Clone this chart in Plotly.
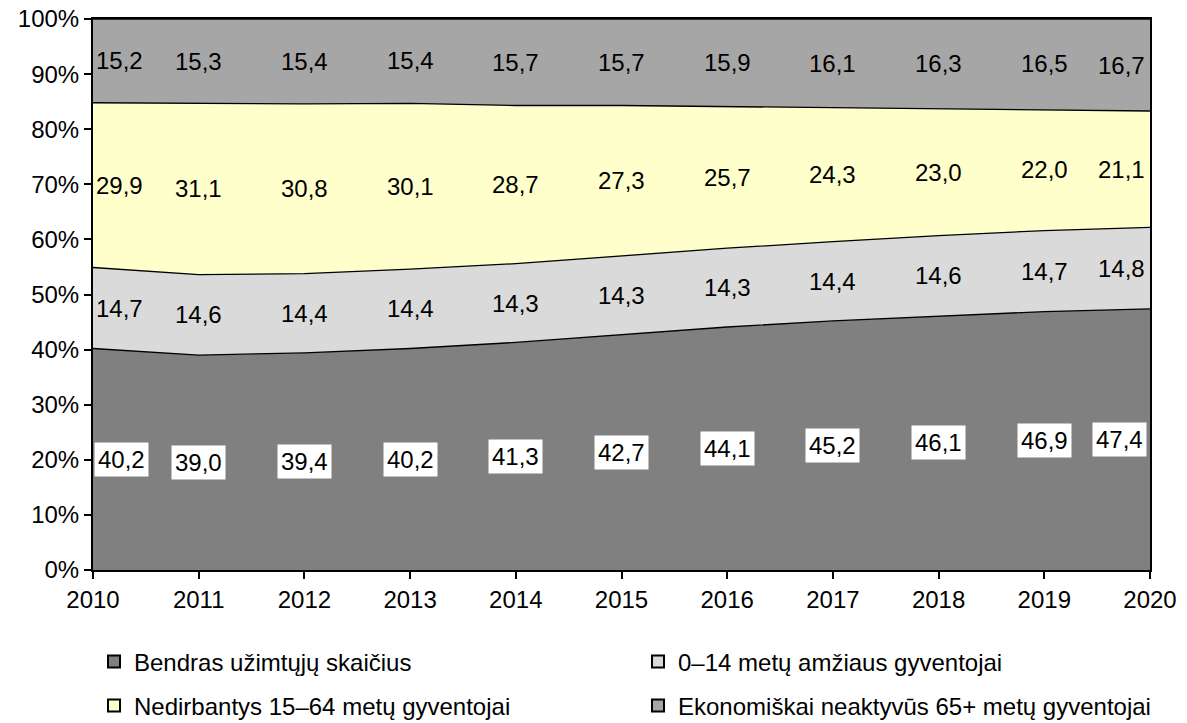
import plotly.graph_objects as go

years = [2010, 2011, 2012, 2013, 2014, 2015, 2016, 2017, 2018, 2019, 2020]
employed = [40.2, 39.0, 39.4, 40.2, 41.3, 42.7, 44.1, 45.2, 46.1, 46.9, 47.4]
children = [14.7, 14.6, 14.4, 14.4, 14.3, 14.3, 14.3, 14.4, 14.6, 14.7, 14.8]
notworking = [29.9, 31.1, 30.8, 30.1, 28.7, 27.3, 25.7, 24.3, 23.0, 22.0, 21.1]
elderly = [15.2, 15.3, 15.4, 15.4, 15.7, 15.7, 15.9, 16.1, 16.3, 16.5, 16.7]

names = ["Bendras užimtųjų skaičius", "0–14 metų amžiaus gyventojai",
         "Nedirbantys 15–64 metų gyventojai", "Ekonomiškai neaktyvūs 65+ metų gyventojai"]
series = [employed, children, notworking, elderly]
colors = ["#808080", "#DADADA", "#FFFFCC", "#A6A6A6"]

FONT = "Liberation Sans, Arial, sans-serif"
fig = go.Figure()

for name, vals, col in zip(names, series, colors):
    fig.add_trace(go.Scatter(
        x=years, y=vals, name=name, stackgroup="one", mode="lines",
        line=dict(color="black", width=1.3), fillcolor=col,
        showlegend=False, hoverinfo="skip"))

legend_ids = ["legend", "legend2", "legend3", "legend4"]
for name, col, lg in zip(names, colors, legend_ids):
    fig.add_trace(go.Scatter(
        x=[None], y=[None], name=name, mode="markers",
        marker=dict(symbol="square", size=13, color=col, line=dict(color="black", width=1)),
        legend=lg, showlegend=True))

annotations = []
base = [0.0] * len(years)
for si, vals in enumerate(series):
    for i, (yr, v) in enumerate(zip(years, vals)):
        mid = base[i] + v / 2
        if i == 0:
            xa, xs = "left", 1
        elif i == len(years) - 1:
            xa, xs = "right", -3
        else:
            xa, xs = "center", 0
        ann = dict(x=yr, y=mid, xref="x", yref="y", text=f"{v:.1f}".replace(".", ","),
                   showarrow=False, xanchor=xa, xshift=xs,
                   font=dict(family=FONT, size=24, color="black"))
        if si == 0:
            ann.update(bgcolor="white", borderpad=3)
        annotations.append(ann)
    base = [b + v for b, v in zip(base, vals)]

W, H = 1187, 723
PL, PR, PT, PB = 93, 1150, 19, 570
pw, ph = PR - PL, PB - PT

def lx(ref_x):
    return (ref_x - PL) / pw

def ly(ref_y):
    return (PB - ref_y) / ph

leg_common = dict(orientation="h", xanchor="left", yanchor="middle",
                  font=dict(family=FONT, size=24), itemsizing="constant", itemwidth=30,
                  bgcolor="rgba(0,0,0,0)", borderwidth=0)
fig.update_layout(
    width=W, height=H,
    margin=dict(l=PL, r=W - PR, t=PT, b=H - PB, autoexpand=False),
    paper_bgcolor="white", plot_bgcolor="white",
    font=dict(family=FONT, size=24, color="black"),
    annotations=annotations,
    legend=dict(leg_common, x=lx(94), y=ly(662)),
    legend2=dict(leg_common, x=lx(638), y=ly(662)),
    legend3=dict(leg_common, x=lx(94), y=ly(706)),
    legend4=dict(leg_common, x=lx(638), y=ly(706)),
    xaxis=dict(range=[2010, 2020], tickvals=years, ticktext=[str(y) for y in years],
               showgrid=False, zeroline=False, showline=True, linecolor="black", linewidth=2,
               mirror=True, ticks="outside", tickcolor="black", ticklen=7, tickwidth=2,
               tickfont=dict(family=FONT, size=24), automargin=False,
               ticklabeloverflow="allow"),
    yaxis=dict(range=[0, 100], tickvals=list(range(0, 101, 10)),
               ticktext=[f"{t}%" for t in range(0, 101, 10)],
               showgrid=False, zeroline=False, showline=True, linecolor="black", linewidth=2,
               mirror=True, ticks="outside", tickcolor="black", ticklen=7, tickwidth=2,
               tickfont=dict(family=FONT, size=24), automargin=False,
               ticklabeloverflow="allow"),
)

fig.write_html("out.html", config={"displayModeBar": False},
               post_script="document.body.style.margin='0';document.body.style.overflow='hidden';")
